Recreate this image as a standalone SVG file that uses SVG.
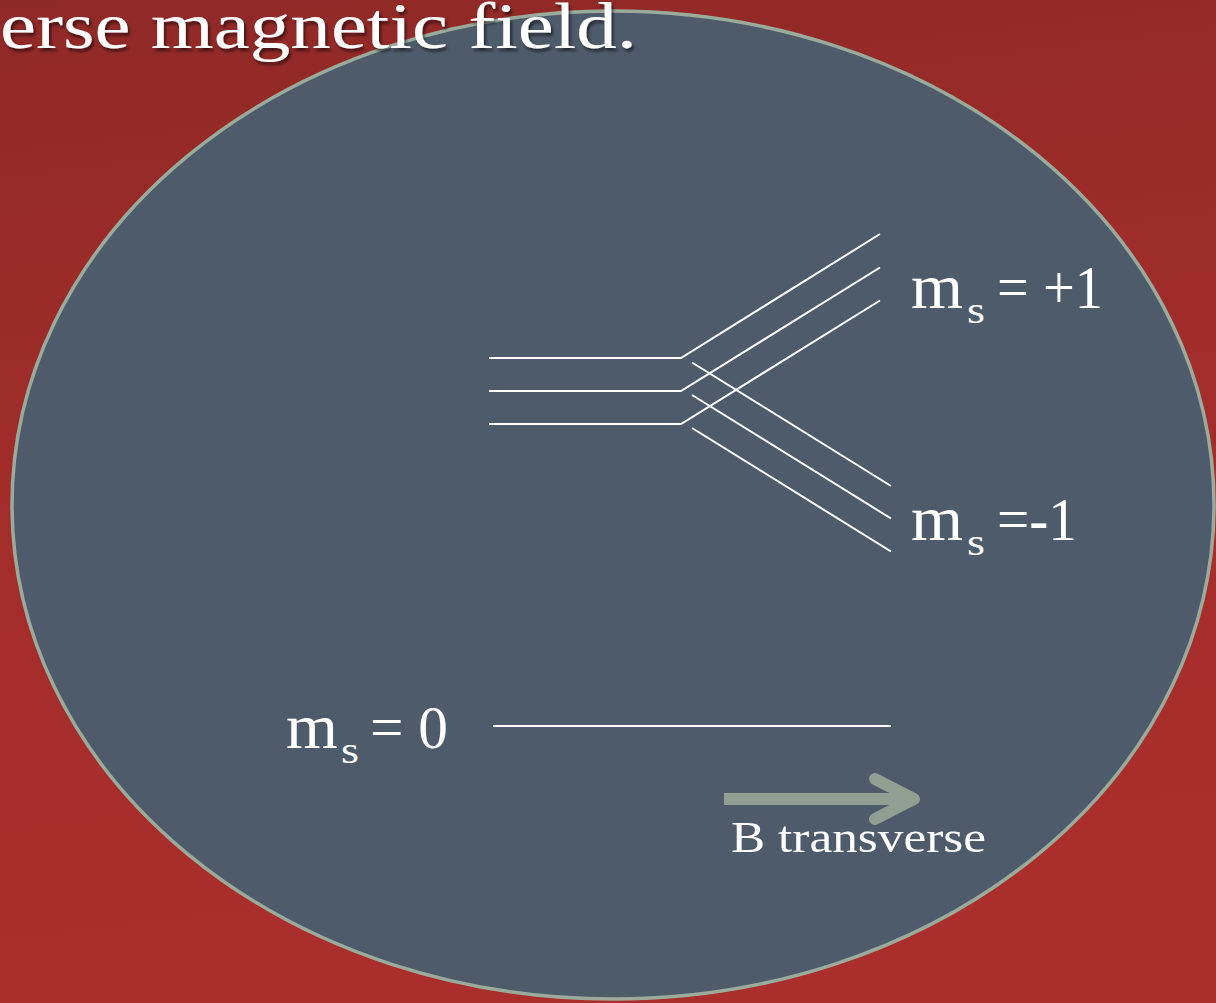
<svg xmlns="http://www.w3.org/2000/svg" width="1216" height="1003" viewBox="0 0 1216 1003">
  <defs>
    <linearGradient id="bg" x1="0" y1="0" x2="0.15" y2="1">
      <stop offset="0" stop-color="#8f2927"/>
      <stop offset="0.5" stop-color="#a22d2b"/>
      <stop offset="1" stop-color="#aa2e2c"/>
    </linearGradient>
    <filter id="shadow" x="-5%" y="-20%" width="110%" height="150%">
      <feDropShadow dx="2" dy="3" stdDeviation="1.5" flood-color="#000" flood-opacity="0.55"/>
    </filter>
    <style>
      .lvl { stroke: #ffffff; stroke-width: 2; fill: none; }
      .lbl { font-family: "Liberation Serif", "DejaVu Serif", serif; fill: #ffffff; }
    </style>
  </defs>
  <rect width="1216" height="1003" fill="url(#bg)"/>
  <g id="ellipse">
    <ellipse cx="613" cy="505" rx="601" ry="494" fill="#4e5b6b" stroke="#9aab9c" stroke-width="3.5"/>
  </g>
  <g id="title">
    <text class="lbl" x="0" y="48" font-size="65" textLength="637" lengthAdjust="spacingAndGlyphs" filter="url(#shadow)">erse magnetic field.</text>
  </g>
  <g id="connectors">
    <polyline class="lvl" points="489,358 681,358 880,234"/>
    <polyline class="lvl" points="489,391 681,391 880,267.5"/>
    <polyline class="lvl" points="489,424 681,424 880,300.5"/>
    <line class="lvl" x1="692" y1="362.5" x2="891" y2="486"/>
    <line class="lvl" x1="692" y1="395" x2="891" y2="518.5"/>
    <line class="lvl" x1="692" y1="428" x2="891" y2="551.5"/>
    <line class="lvl" x1="493" y1="726" x2="891" y2="726"/>
  </g>
  <g id="arrow">
    <line x1="724" y1="799" x2="910" y2="799" stroke="#8fa093" stroke-width="12"/>
    <polyline points="875,779 914,799 875,819" fill="none" stroke="#8fa093" stroke-width="12" stroke-linecap="round" stroke-linejoin="round"/>
  </g>
  <g id="label-plus1">
    <text class="lbl" x="911" y="308" font-size="64" textLength="52" lengthAdjust="spacingAndGlyphs">m</text>
    <text class="lbl" x="967" y="323" font-size="38" textLength="18" lengthAdjust="spacingAndGlyphs">s</text>
    <text class="lbl" x="997" y="308" font-size="62" textLength="106" lengthAdjust="spacingAndGlyphs">= +1</text>
  </g>
  <g id="label-minus1">
    <text class="lbl" x="911" y="540" font-size="64" textLength="52" lengthAdjust="spacingAndGlyphs">m</text>
    <text class="lbl" x="967" y="555" font-size="38" textLength="18" lengthAdjust="spacingAndGlyphs">s</text>
    <text class="lbl" x="997" y="540" font-size="62" textLength="80" lengthAdjust="spacingAndGlyphs">=-1</text>
  </g>
  <g id="label-zero">
    <text class="lbl" x="286" y="748" font-size="64" textLength="52" lengthAdjust="spacingAndGlyphs">m</text>
    <text class="lbl" x="341" y="763" font-size="38" textLength="18" lengthAdjust="spacingAndGlyphs">s</text>
    <text class="lbl" x="370" y="748" font-size="62" textLength="78" lengthAdjust="spacingAndGlyphs">= 0</text>
  </g>
  <g id="label-b">
    <text class="lbl" x="731" y="852" font-size="45" textLength="255" lengthAdjust="spacingAndGlyphs">B transverse</text>
  </g>
</svg>
